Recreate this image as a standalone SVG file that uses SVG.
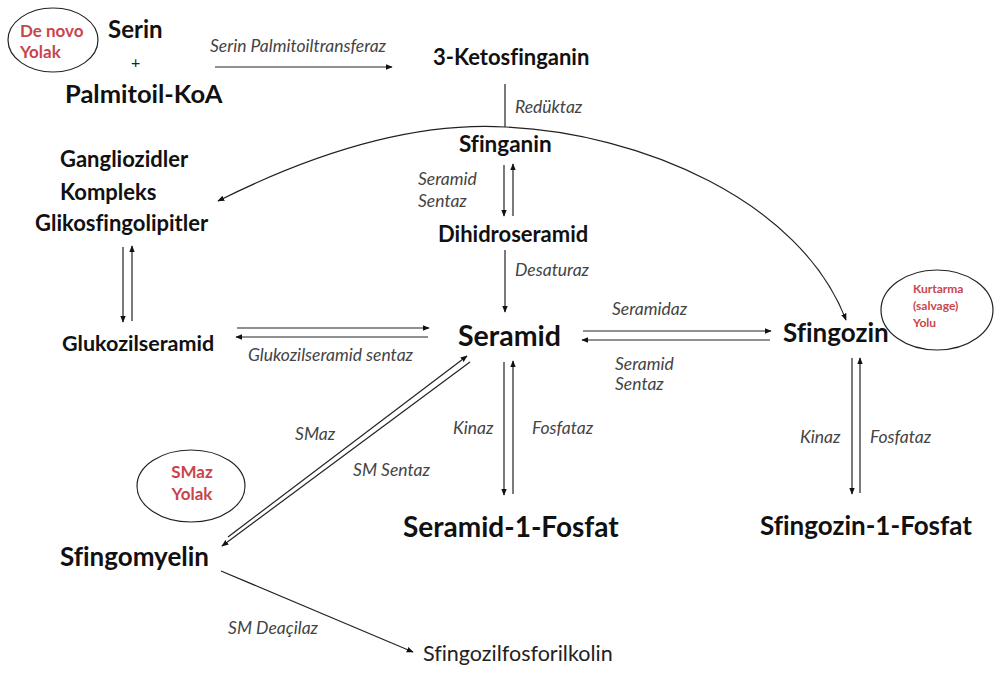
<svg xmlns="http://www.w3.org/2000/svg" width="994" height="674" viewBox="0 0 994 674">
<style>
text{font-variant-ligatures:none}
.n{font-family:Lato,"Open Sans","Liberation Sans",sans-serif;font-weight:bold;fill:#111}
.r{font-family:Lato,"Open Sans","Liberation Sans",sans-serif;fill:#222}
.l{font-family:Lato,"Open Sans","Liberation Sans",sans-serif;font-style:italic;font-size:17.5px;fill:#444}
.red{font-family:Lato,"Open Sans","Liberation Sans",sans-serif;font-weight:bold;fill:#c8464b}
.c line,.c path{stroke:#222;stroke-width:1.2;fill:none}
.e{fill:none;stroke:#222;stroke-width:1.2}
</style>
<defs>
<marker id="a" viewBox="0 0 10 10" refX="9" refY="5" markerWidth="7" markerHeight="7" markerUnits="userSpaceOnUse" orient="auto-start-reverse">
<path d="M0,1 L10,5 L0,9 z" fill="#111"/>
</marker>
</defs>
<rect width="994" height="674" fill="#fff"/>

<g id="denovo"><ellipse class="e" cx="53" cy="40" rx="45" ry="32"/>
<text class="red" x="20" y="37" font-size="17">De novo</text>
<text class="red" x="20" y="58" font-size="17">Yolak</text></g>

<g id="serin"><text class="n" x="108" y="38" font-size="24">Serin</text>
<text class="r" x="131" y="68" font-size="16">+</text>
<text class="n" x="65" y="103" font-size="25.5">Palmitoil-KoA</text></g>

<g id="ketosfinganin"><text class="n" x="433" y="65" font-size="22">3-Ketosfinganin</text></g>
<g id="sfinganin"><text class="n" x="459" y="152" font-size="22.5">Sfinganin</text></g>
<g id="dihidroseramid"><text class="n" x="438" y="242" font-size="22">Dihidroseramid</text></g>
<g id="glikosfingolipitler"><text class="n" x="60" y="167" font-size="22">Gangliozidler</text>
<text class="n" x="60" y="200" font-size="22">Kompleks</text>
<text class="n" x="35" y="231" font-size="22">Glikosfingolipitler</text></g>
<g id="glukozilseramid"><text class="n" x="62" y="351" font-size="21.5">Glukozilseramid</text></g>
<g id="seramid"><text class="n" x="458" y="346" font-size="28.5">Seramid</text></g>
<g id="sfingozin"><text class="n" x="783" y="342" font-size="26">Sfingozin</text></g>
<g id="kurtarma"><ellipse class="e" cx="937" cy="310" rx="56" ry="40"/>
<text class="red" x="913" y="293" font-size="12">Kurtarma</text>
<text class="red" x="913" y="310" font-size="12">(salvage)</text>
<text class="red" x="913" y="327" font-size="12">Yolu</text></g>
<g id="seramid1fosfat"><text class="n" x="403" y="537" font-size="28">Seramid-1-Fosfat</text></g>
<g id="sfingozin1fosfat"><text class="n" x="760" y="535" font-size="26">Sfingozin-1-Fosfat</text></g>
<g id="smaz"><ellipse class="e" cx="191" cy="486" rx="54" ry="36"/>
<text class="red" x="192" y="478" font-size="17" text-anchor="middle">SMaz</text>
<text class="red" x="192" y="500" font-size="17" text-anchor="middle">Yolak</text></g>
<g id="sfingomyelin"><text class="n" x="60" y="566" font-size="26">Sfingomyelin</text></g>
<g id="sfingozilfosforilkolin"><text class="r" x="423" y="661" font-size="21.5">Sfingozilfosforilkolin</text></g>

<g id="labels">
<text class="l" x="210" y="52">Serin Palmitoiltransferaz</text>
<text class="l" x="515" y="113">Redüktaz</text>
<text class="l" x="418" y="185">Seramid</text>
<text class="l" x="418" y="207">Sentaz</text>
<text class="l" x="515" y="276">Desaturaz</text>
<text class="l" x="612" y="315">Seramidaz</text>
<text class="l" x="248" y="361">Glukozilseramid sentaz</text>
<text class="l" x="615" y="370">Seramid</text>
<text class="l" x="615" y="390">Sentaz</text>
<text class="l" x="295" y="440">SMaz</text>
<text class="l" x="353" y="476">SM Sentaz</text>
<text class="l" x="453" y="434">Kinaz</text>
<text class="l" x="532" y="434">Fosfataz</text>
<text class="l" x="800" y="443">Kinaz</text>
<text class="l" x="870" y="443">Fosfataz</text>
<text class="l" x="228" y="634">SM Deaçilaz</text>
</g>

<g id="connectors" class="c">
<line x1="215" y1="67" x2="392" y2="67" marker-end="url(#a)"/>
<line x1="505" y1="84" x2="505" y2="127"/>
<line x1="504" y1="165" x2="504" y2="216" marker-end="url(#a)"/>
<line x1="513" y1="216" x2="513" y2="164" marker-end="url(#a)"/>
<line x1="505" y1="250" x2="505" y2="312" marker-end="url(#a)"/>
<path d="M218,201 Q380,120 505,127 C640,133 800,200 846,320" marker-start="url(#a)" marker-end="url(#a)"/>
<line x1="123" y1="247" x2="123" y2="322" marker-end="url(#a)"/>
<line x1="132" y1="321" x2="132" y2="246" marker-end="url(#a)"/>
<line x1="237" y1="328" x2="429" y2="328" marker-end="url(#a)"/>
<line x1="428" y1="337" x2="236" y2="337" marker-end="url(#a)"/>
<line x1="583" y1="331" x2="771" y2="331" marker-end="url(#a)"/>
<line x1="770" y1="340" x2="582" y2="340" marker-end="url(#a)"/>
<line x1="504" y1="362" x2="504" y2="495" marker-end="url(#a)"/>
<line x1="513" y1="494" x2="513" y2="361" marker-end="url(#a)"/>
<line x1="852" y1="358" x2="852" y2="494" marker-end="url(#a)"/>
<line x1="860" y1="493" x2="860" y2="358" marker-end="url(#a)"/>
<line x1="228" y1="537" x2="467" y2="356" marker-end="url(#a)"/>
<line x1="470" y1="362" x2="222" y2="546" marker-end="url(#a)"/>
<line x1="221" y1="571" x2="413" y2="652" marker-end="url(#a)"/>
</g>
</svg>
